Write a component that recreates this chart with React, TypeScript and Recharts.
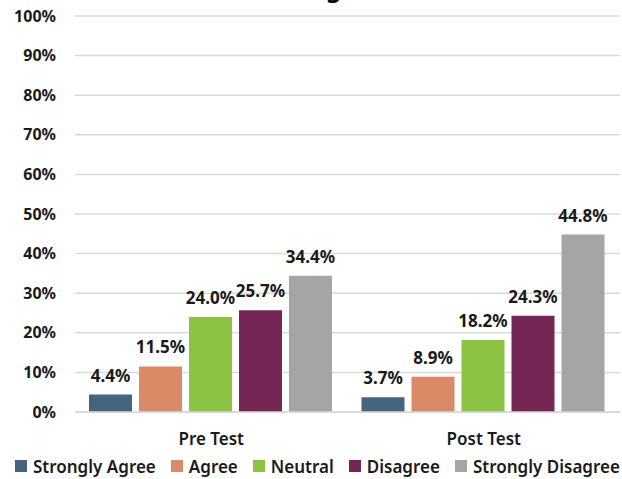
import React from 'react';
import { BarChart, Bar, XAxis, YAxis, CartesianGrid, Legend, LabelList } from 'recharts';

const tests = ['Pre Test', 'Post Test'];
const stronglyAgree = [4.4, 3.7];
const agree = [11.5, 8.9];
const neutral = [24.0, 18.2];
const disagree = [25.7, 24.3];
const stronglyDisagree = [34.4, 44.8];
const yTicks = [0, 10, 20, 30, 40, 50, 60, 70, 80, 90, 100];

const series = [
  { key: 'stronglyAgree', name: 'Strongly Agree', color: '#46647E', values: stronglyAgree },
  { key: 'agree', name: 'Agree', color: '#DA8A67', values: agree },
  { key: 'neutral', name: 'Neutral', color: '#8CC342', values: neutral },
  { key: 'disagree', name: 'Disagree', color: '#752654', values: disagree },
  { key: 'stronglyDisagree', name: 'Strongly Disagree', color: '#A5A5A5', values: stronglyDisagree }
];

const data = tests.map((t, i) => {
  const row: Record<string, string | number> = { test: t };
  series.forEach((s) => (row[s.key] = s.values[i]));
  return row;
});

const font = "'Noto Sans', sans-serif";

const LegendContent = () => (
  <div style={{ height: 24, width: 622, boxSizing: 'border-box', display: 'flex', alignItems: 'center', justifyContent: 'flex-start', paddingLeft: 15, whiteSpace: 'nowrap', fontFamily: font, fontWeight: 600, fontSize: 17, color: '#1a1a1a', gap: 15 }}>
    {series.map((s) => (
      <div key={s.key} style={{ display: 'flex', alignItems: 'center', flexShrink: 0 }}>
        <span style={{ width: 12, height: 12, background: s.color, marginRight: 6, display: 'inline-block' }} />
        {s.name}
      </div>
    ))}
  </div>
);

export default function App() {
  return (
    <div style={{ position: 'absolute', left: 0, top: 0, width: 622, height: 479, overflow: 'hidden', background: '#fff' }}>
      {/* title sits mostly above the visible area, as in the source image */}
      <div style={{ position: 'absolute', left: 0, width: 674, top: -27, textAlign: 'center', fontFamily: font, fontWeight: 700, fontSize: 24, lineHeight: '30px', color: '#000' }}>
        drinking alcohol
      </div>
      <BarChart width={622} height={479} data={data} margin={{ top: 16, right: 2, left: 0, bottom: 1 }} barCategoryGap={14} barGap={7}>
        <CartesianGrid vertical={false} stroke="#D9D9D9" strokeWidth={1.5} />
        <XAxis dataKey="test" height={42} axisLine={{ stroke: '#D9D9D9', strokeWidth: 1.5 }} tickLine={false} tickSize={0} tickMargin={21}
          tick={{ fontFamily: font, fontWeight: 600, fontSize: 17, fill: '#1a1a1a' }} />
        <YAxis domain={[0, 100]} ticks={yTicks} width={75} axisLine={false} tickLine={false} tickSize={0} tickMargin={19}
          tickFormatter={(v) => `${v}%`} tick={{ fontFamily: font, fontWeight: 700, fontSize: 16, fill: '#1a1a1a' }} />
        <Legend verticalAlign="bottom" content={<LegendContent />} />
        {series.map((s) => (
          <Bar key={s.key} dataKey={s.key} name={s.name} fill={s.color} isAnimationActive={false}>
            <LabelList dataKey={s.key} position="top" offset={13} formatter={(v: number) => `${v.toFixed(1)}%`}
              style={{ fontFamily: font, fontWeight: 700, fontSize: 17, fill: '#1a1a1a' }} />
          </Bar>
        ))}
      </BarChart>
    </div>
  );
}
